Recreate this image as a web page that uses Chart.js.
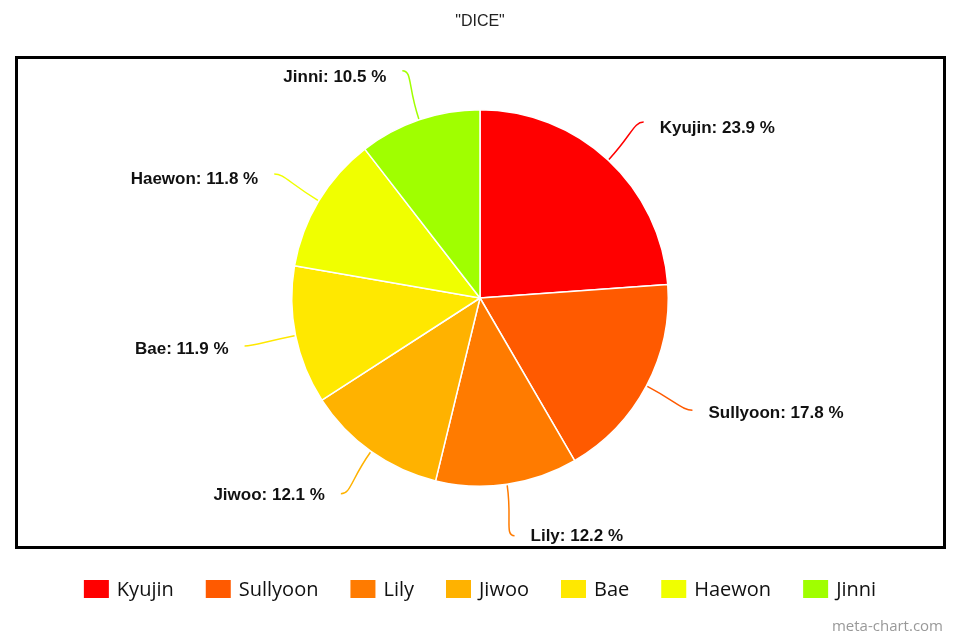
<!DOCTYPE html>
<html>
<head>
<meta charset="utf-8">
<script src="https://cdn.jsdelivr.net/npm/chart.js@4.4.0/dist/chart.umd.min.js"></script>
<style>
  body { margin: 0; background: #fff; }
  #wrap { width: 960px; height: 640px; position: relative; }
</style>
</head>
<body>
<div id="wrap"><canvas id="myChart"></canvas></div>
<script>
const members = ['Kyujin', 'Sullyoon', 'Lily', 'Jiwoo', 'Bae', 'Haewon', 'Jinni'];
const shares = [23.9, 17.8, 12.2, 12.1, 11.9, 11.8, 10.5];
const colores = ['#ff0000', '#ff5a00', '#ff7b00', '#ffb200', '#ffe800', '#f0ff00', '#a0ff00'];
const titulo = '"DICE"';

// marco, etiquetas con lineas, leyenda y marca de agua
const extras = {
  id: 'extras',
  afterDraw(chart) {
    const ctx = chart.ctx;
    ctx.save();

    // titulo
    ctx.fillStyle = '#222';
    ctx.font = '16px "Liberation Sans", Arial, sans-serif';
    ctx.textAlign = 'center';
    ctx.textBaseline = 'middle';
    ctx.fillText(titulo, 480, 22);

    // marco
    ctx.strokeStyle = '#000';
    ctx.lineWidth = 3;
    ctx.strokeRect(16.5, 57.5, 928, 490);

    // etiquetas
    const arcs = chart.getDatasetMeta(0).data;
    ctx.font = 'bold 17px "Liberation Sans", Arial, sans-serif';
    arcs.forEach((arc, i) => {
      const p = arc.getProps(['x', 'y', 'startAngle', 'endAngle', 'outerRadius']);
      const a = (p.startAngle + p.endAngle) / 2;
      const r = p.outerRadius;
      const cos = Math.cos(a), sin = Math.sin(a);
      const sx = p.x + cos * (r + 1), sy = p.y + sin * (r + 1);
      const ex = p.x + cos * (r + 52), ey = p.y + sin * (r + 52);
      const dir = cos >= 0 ? 1 : -1;
      ctx.strokeStyle = colores[i];
      ctx.lineWidth = 1.5;
      ctx.beginPath();
      ctx.moveTo(sx, sy);
      ctx.bezierCurveTo(p.x + cos * (r + 35), p.y + sin * (r + 35), ex - dir * 10, ey, ex, ey);
      ctx.stroke();
      ctx.fillStyle = '#111';
      ctx.textAlign = dir > 0 ? 'left' : 'right';
      ctx.fillText(members[i] + ': ' + shares[i].toFixed(1) + ' %', ex + dir * 16, ey + 4 - 3 * sin);
    });

    // leyenda
    ctx.font = '20px "Open Sans", "DejaVu Sans", sans-serif';
    ctx.textAlign = 'left';
    const box = 25, gap = 8, sep = 32;
    let total = 0;
    members.forEach(m => { total += box + gap + ctx.measureText(m).width; });
    total += sep * (members.length - 1);
    let x = 480 - total / 2;
    members.forEach((m, i) => {
      ctx.fillStyle = colores[i];
      ctx.fillRect(x, 580, box, 18);
      ctx.fillStyle = '#111';
      ctx.fillText(m, x + box + gap, 590);
      x += box + gap + ctx.measureText(m).width + sep;
    });

    // marca de agua
    ctx.fillStyle = '#999';
    ctx.font = '15px "Open Sans", "DejaVu Sans", sans-serif';
    ctx.textAlign = 'right';
    ctx.fillText('meta-chart.com', 943, 627);

    ctx.restore();
  }
};

new Chart(document.getElementById('myChart'), {
  type: 'pie',
  data: {
    labels: members,
    datasets: [{
      data: shares,
      backgroundColor: colores,
      borderColor: '#fff',
      borderWidth: 1.5
    }]
  },
  options: {
    responsive: true,
    maintainAspectRatio: false,
    animation: false,
    layout: { padding: { top: 109, bottom: 153, left: 0, right: 0 } },
    plugins: {
      legend: { display: false },
      tooltip: { enabled: false }
    }
  },
  plugins: [extras]
});
</script>
</body>
</html>
